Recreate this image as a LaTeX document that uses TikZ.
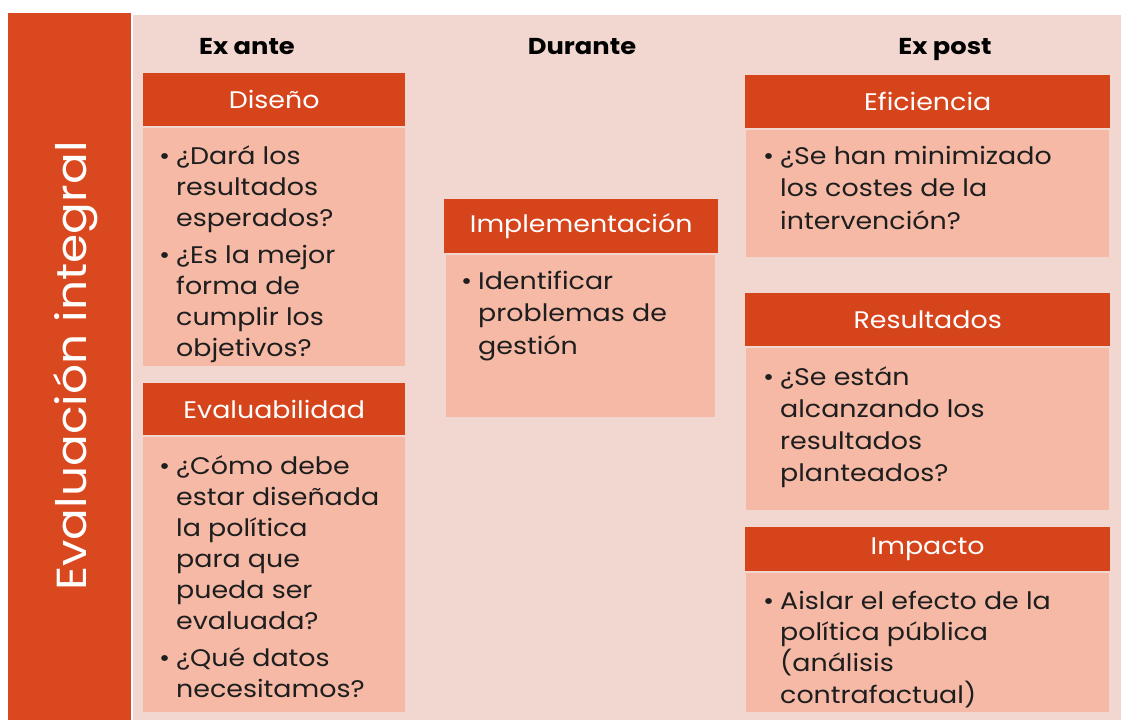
\documentclass[tikz,border=0pt]{standalone}
\usepackage{fontspec}
\setmainfont{Poppins}[FakeStretch=1.12]
\definecolor{barred}{RGB}{217,72,30}
\definecolor{hdrred}{RGB}{214,68,28}
\definecolor{bodysal}{RGB}{245,185,165}
\definecolor{panelbg}{RGB}{242,214,208}
\definecolor{txt}{RGB}{30,30,30}
\newcommand{\blist}[2]{\fontsize{#1}{#2}\selectfont\begin{tabular}[t]{@{}p{17pt}@{}l@{}}}
\begin{document}
\begin{tikzpicture}[x=1pt,y=-1pt,
  hdr/.style={fill=hdrred,draw=none,anchor=north west,inner sep=0pt},
  hdrtext/.style={text=white,font=\fontsize{24}{27}\selectfont},
  bodybox/.style={fill=bodysal,draw=none,anchor=north west,inner sep=0pt},
  coltitle/.style={font=\bfseries\fontsize{23}{26}\selectfont,text=black,anchor=base},
  blt/.style={anchor=base west,inner sep=0pt,text=txt,align=left}]
\fill[white] (0,0) rectangle (1121,720);
\useasboundingbox (0,0) rectangle (1121,720);
\node[fill=panelbg,anchor=north west,minimum width=988pt,minimum height=705pt,inner sep=0pt] (panel) at (133,15) {};
\node[fill=barred,anchor=north west,minimum width=123pt,minimum height=707pt,inner sep=0pt] (bar) at (8,13) {};
\node[rotate=90,text=white,font=\fontsize{42}{46}\selectfont,anchor=base] (title) at (86,366) {Evaluación integral};
% column titles
\node[coltitle] (exante) at (247,54) {Ex ante};
\node[coltitle] (durante) at (582,54) {Durante};
\node[coltitle] (expost) at (945,54) {Ex post};
% Diseño
\node[hdr,minimum width=262pt,minimum height=53pt] (h1) at (143,73) {};
\node[hdrtext] at (h1.center) {Diseño};
\node[bodybox,minimum width=262pt,minimum height=238pt] (b1) at (143,128) {};
\node[blt] (t1) at (159,164) {\blist{24}{31}
\textbullet & ¿Dará los\\ & resultados\\ & esperados?\\[6pt]
\textbullet & ¿Es la mejor\\ & forma de\\ & cumplir los\\ & objetivos?\end{tabular}};
% Evaluabilidad
\node[hdr,minimum width=262pt,minimum height=52pt] (h2) at (143,383) {};
\node[hdrtext] at (h2.center) {Evaluabilidad};
\node[bodybox,minimum width=262pt,minimum height=275pt] (b2) at (143,437) {};
\node[blt] (t2) at (159,474) {\blist{24}{31}
\textbullet & ¿Cómo debe\\ & estar diseñada\\ & la política\\ & para que\\ & pueda ser\\ & evaluada?\\[6pt]
\textbullet & ¿Qué datos\\ & necesitamos?\end{tabular}};
% Implementación
\node[hdr,minimum width=274pt,minimum height=54pt] (h3) at (444,199) {};
\node[hdrtext] at (h3.center) {Implementación};
\node[bodybox,minimum width=269pt,minimum height=162pt] (b3) at (446,255) {};
\node[blt] (t3) at (461,289) {\blist{24}{32.5}
\textbullet & Identificar\\ & problemas de\\ & gestión\end{tabular}};
% Eficiencia
\node[hdr,minimum width=365pt,minimum height=53pt] (h4) at (745,75) {};
\node[hdrtext] at (h4.center) {Eficiencia};
\node[bodybox,minimum width=363pt,minimum height=127pt] (b4) at (746,130) {};
\node[blt] (t4) at (763,164) {\blist{24}{32.5}
\textbullet & ¿Se han minimizado\\ & los costes de la\\ & intervención?\end{tabular}};
% Resultados
\node[hdr,minimum width=365pt,minimum height=53pt] (h5) at (745,293) {};
\node[hdrtext] at (h5.center) {Resultados};
\node[bodybox,minimum width=363pt,minimum height=162pt] (b5) at (746,348) {};
\node[blt] (t5) at (763,385) {\blist{24}{32}
\textbullet & ¿Se están\\ & alcanzando los\\ & resultados\\ & planteados?\end{tabular}};
% Impacto
\node[hdr,minimum width=365pt,minimum height=44pt] (h6) at (745,527) {};
\node[hdrtext] at (h6.center) {Impacto};
\node[bodybox,minimum width=363pt,minimum height=139pt] (b6) at (746,573) {};
\node[blt] (t6) at (763,609) {\blist{24}{31}
\textbullet & Aislar el efecto de la\\ & política pública\\ & (análisis\\ & contrafactual)\end{tabular}};
\end{tikzpicture}
\end{document}
